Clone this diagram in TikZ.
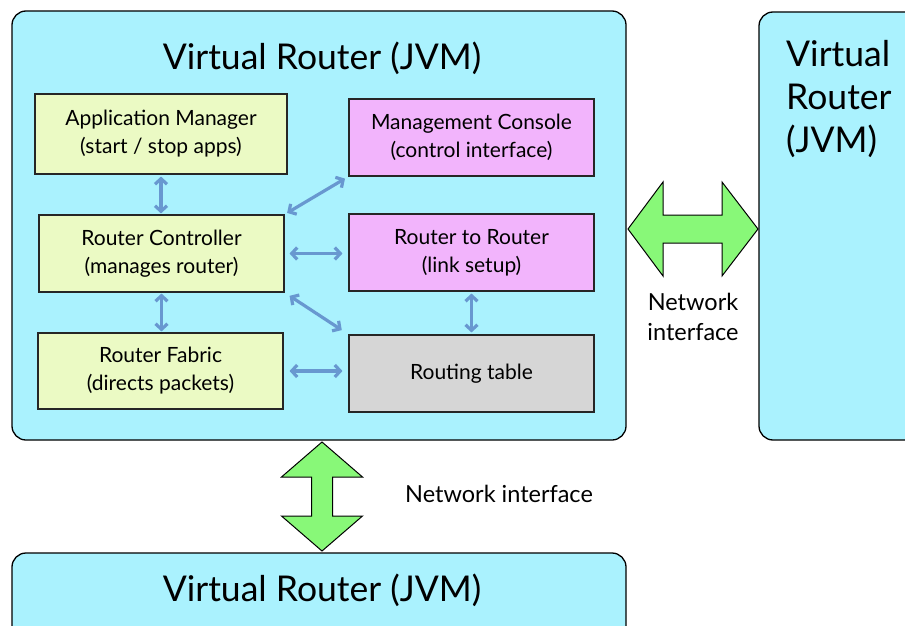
\documentclass[tikz,border=0pt]{standalone}
\usepackage{fontspec}
\setmainfont{Lato}
\usetikzlibrary{arrows.meta}
\definecolor{vmcyan}{RGB}{170,242,254}
\definecolor{ctlgreen}{RGB}{235,250,196}
\definecolor{mgmtpink}{RGB}{242,180,252}
\definecolor{tablegray}{RGB}{214,214,214}
\definecolor{netgreen}{RGB}{136,248,120}
\definecolor{linkblue}{RGB}{104,152,208}
\tikzset{
  vmbox/.style={draw=black, line width=1.3pt, fill=vmcyan, rounded corners=14pt},
  part/.style={draw=black!85, line width=1.1pt, inner sep=0pt, align=center,
    font=\fontsize{21}{28}\selectfont},
  ctl/.style={part, fill=ctlgreen},
  mgmt/.style={part, fill=mgmtpink},
  tbl/.style={part, fill=tablegray},
  bigtitle/.style={font=\fontsize{35.5}{43}\selectfont, inner sep=0pt},
  netlabel/.style={font=\fontsize{23.5}{30}\selectfont, inner sep=0pt, align=center},
  link/.style={draw=linkblue, line width=3.2pt,
    {Straight Barb[length=5.5pt,width=12pt]}-{Straight Barb[length=5.5pt,width=12pt]}},
  netarrow/.style={draw=black, line width=1pt, fill=netgreen, line join=miter}
}
\begin{document}
\begin{tikzpicture}[x=1pt,y=-1pt]
\useasboundingbox (0,0) rectangle (905,626);
\clip (0,0) rectangle (905,626);

% router containers
\node[vmbox, minimum width=614pt, minimum height=429pt] (main) at (319,225.5) {};
\node[vmbox, minimum width=190pt, minimum height=428pt] (east) at (854,226) {};
\node[vmbox, minimum width=614pt, minimum height=100pt] (south) at (319,603) {};

% titles
\node[bigtitle] (maintitle) at (322,58) {Virtual Router (JVM)};
\node[bigtitle, anchor=north west, align=left] (easttitle) at (786,40) {Virtual\\Router\\(JVM)};
\node[bigtitle] (southtitle) at (322,590) {Virtual Router (JVM)};

% components
\node[ctl, minimum width=252pt, minimum height=80pt] (am) at (161,134)
  {Application Manager\\(start / stop apps)};
\node[ctl, minimum width=245pt, minimum height=77pt] (rc) at (161.5,253.5)
  {Router Controller\\(manages router)};
\node[ctl, minimum width=245pt, minimum height=76pt] (rf) at (160.5,371)
  {Router Fabric\\(directs packets)};
\node[mgmt, minimum width=245pt, minimum height=77pt] (mc) at (471.5,137.5)
  {Management Console\\(control interface)};
\node[mgmt, minimum width=245pt, minimum height=77pt] (rr) at (471.5,252.5)
  {Router to Router\\(link setup)};
\node[tbl, minimum width=245pt, minimum height=77pt] (rt) at (471.5,373.5)
  {Routing table};

% internal links
\draw[link, shorten <=2pt, shorten >=1pt] (am.south) -- (am.south |- rc.north);
\draw[link, shorten <=1pt, shorten >=1pt] (rc.south) -- (rc.south |- rf.north);
\draw[link, shorten <=3pt, shorten >=4pt] (rc.north east) -- (mc.south west);
\draw[link, shorten <=5pt, shorten >=6pt] (rc.east) -- (rc.east -| rr.west);
\draw[link, shorten <=6pt, shorten >=8pt] (rc.south east) -- (rt.north west);
\draw[link, shorten <=6pt, shorten >=6pt] (rf.east) -- (rf.east -| rt.west);
\draw[link, shorten <=2pt, shorten >=2pt] (rr.south) -- (rt.north);

% network interfaces
\draw[netarrow] (628,229) -- (663,182) -- (663,215) -- (722,215) -- (722,182)
  -- (758,229) -- (722,276) -- (722,243) -- (663,243) -- (663,276) -- cycle;
\draw[netarrow] (322,442) -- (362.5,477) -- (332.5,477) -- (332.5,516)
  -- (362.5,516) -- (322,551) -- (281.5,516) -- (311.5,516) -- (311.5,477)
  -- (281.5,477) -- cycle;
\node[netlabel] (eastnet) at (693,317) {Network\\interface};
\node[netlabel, anchor=west] (southnet) at (405,494) {Network interface};
\end{tikzpicture}
\end{document}
